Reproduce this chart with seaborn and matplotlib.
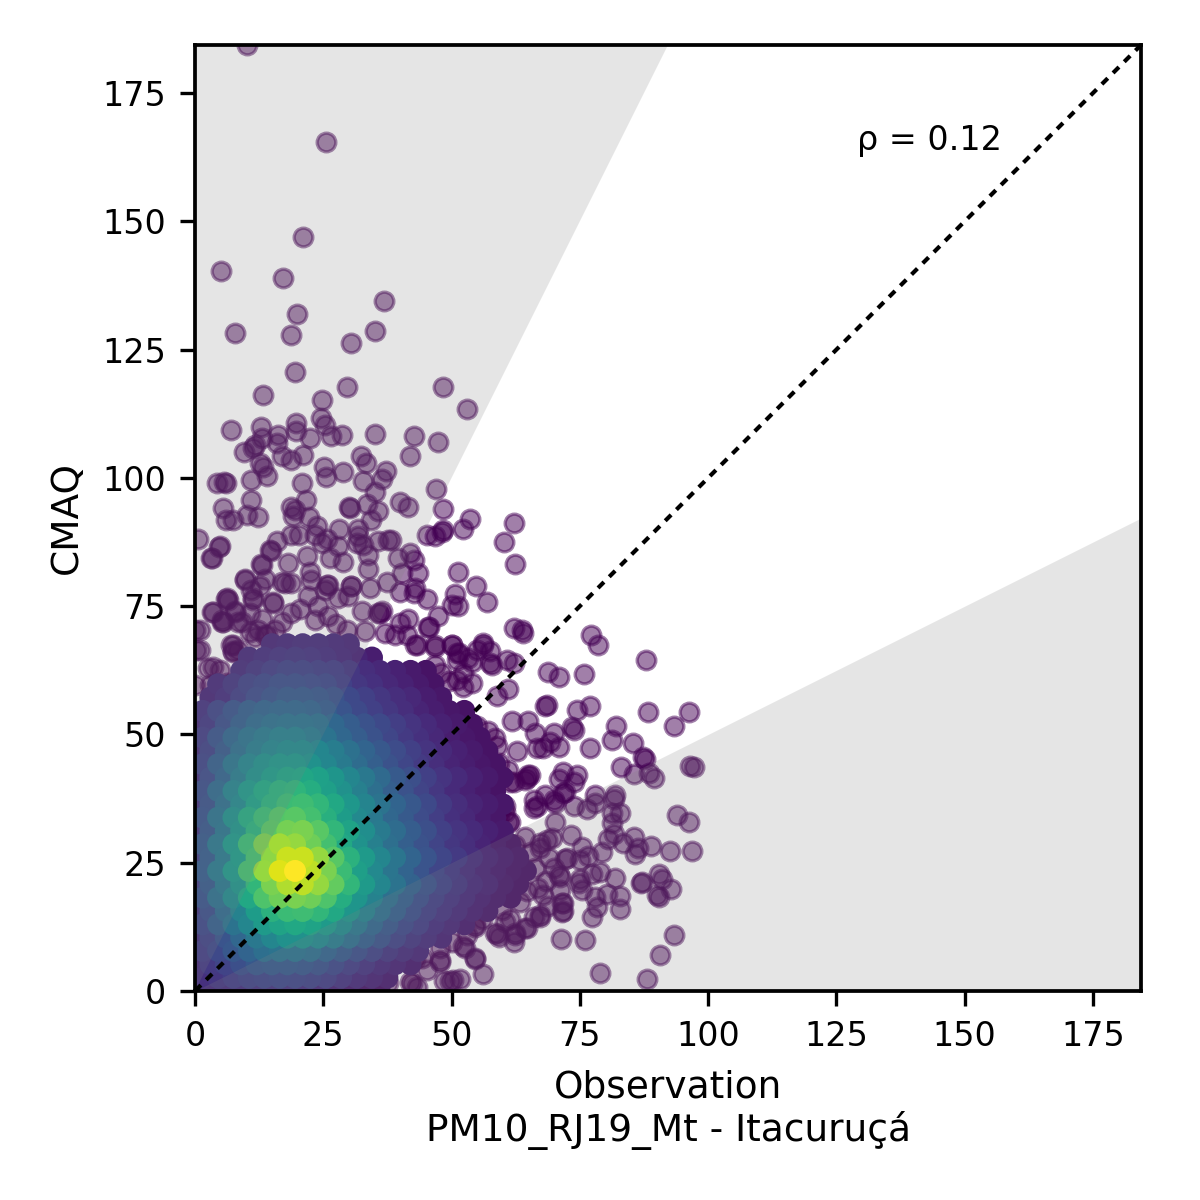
import numpy as np
import pandas as pd
import matplotlib
matplotlib.use("Agg")
import matplotlib.pyplot as plt
import seaborn as sns

AX_LIMIT = 184.4
title_lines = ["Observation", "PM10_RJ19_Mt - Itacuruçá"]
tick_values = [0, 25, 50, 75, 100, 125, 150, 175]
rho_label = "ρ = 0.12"

# Dense core: density (0-100), row by row.
core_row_y = [0, 2.6, 5.2, 7.8, 10.4, 13, 15.6, 18.2, 20.8, 23.4, 26, 28.6, 31.2, 33.8, 36.4,
              39, 41.6, 44.2, 46.8, 49.4, 52, 54.6, 57.2, 59.8, 62.4, 65, 67.6]
core_density = [
    [10,12,13,14,15,15,15,14,12,10,8,6,5],
    [14,16,18,20,21,22,21,20,18,15,12,10,8],
    [12,17,20,24,27,28,28,27,25,22,18,15,12,10,8],
    [18,22,27,32,36,38,38,36,32,28,24,20,16,13,11],
    [14,20,26,33,40,46,50,50,47,42,36,30,25,20,16,13,10],
    [22,30,38,46,54,58,60,58,54,48,40,33,27,22,18,14,11,8],
    [16,24,34,44,55,64,68,69,66,60,52,44,36,30,24,19,15,12,9,7],
    [26,37,48,60,72,78,80,78,72,62,52,44,36,30,24,19,15,12,9,7,5],
    [18,28,40,52,66,80,88,90,84,76,66,54,46,38,31,25,20,16,12,10,7,5],
    [29,41,54,70,84,95,100,90,80,68,56,47,39,32,26,21,17,13,10,8,6,5],
    [18,29,41,55,70,83,92,92,84,74,64,54,46,39,32,26,21,17,13,10,8,6],
    [28,40,54,68,80,86,84,78,70,60,51,43,36,30,25,20,16,13,10,7,5],
    [16,27,39,52,64,74,79,80,74,66,58,49,41,35,29,24,19,15,12,9,7],
    [26,38,50,61,68,73,74,70,63,55,47,40,33,28,23,18,14,11,8,6],
    [15,25,36,47,57,64,68,69,66,60,53,45,38,32,27,22,17,13,10,8,6],
    [24,34,45,54,60,64,65,62,56,50,43,36,30,25,20,16,12,9,7,5],
    [14,23,32,42,50,55,58,59,57,52,46,40,34,28,24,19,15,12,9,7,5],
    [21,30,39,46,50,53,53,50,46,41,35,30,25,21,17,13,10,8,6,5],
    [13,20,28,36,42,46,48,48,46,42,37,32,27,23,19,15,12,9,7,5],
    [18,26,33,38,41,43,43,41,38,33,29,25,21,17,14,11,8,6,5],
    [12,17,24,30,34,37,38,38,37,33,29,25,22,18,15,12,9,7,5],
    [15,21,26,30,32,33,33,32,29,26,22,19,16,13,10,8,6,5],
    [0,11,14,19,23,26,28,28,27,25,22,19,16,13,11,8,6],
    [0,12,16,20,22,24,24,23,22,19,16,14,11,9,7,5],
    [0,0,0,13,16,18,20,20,19,18,16,13,11,9,7,5],
    [0,0,0,12,14,15,16,15,14,12,10,8],
    [0,0,0,0,0,11,12,13,13,12,11],
]

# Individually visible points around the core.
outer_points = [
    (10.1,184.4),(25.5,165.5),(21,147),(5.1,140.4),(17.2,139),(19.9,132),(36.8,134.5),(7.8,128.3),
    (18.7,127.9),(35.1,128.7),(30.4,126.3),(19.5,120.7),(29.7,117.8),(48.4,117.7),(13.3,116.2),
    (53.1,113.5),(24.7,115.2),(7,109.4),(12.8,110),(19.6,110.7),(19.6,109.2),(24.6,111.6),(25.3,110.3),
    (26.5,108.2),(28.6,108.4),(22.4,107.7),(35.1,108.6),(42.7,108.1),(47.3,107),(41.9,104.3),
    (16.2,108.4),(15.9,106.8),(13,107.7),(11.7,106.4),(11.4,105.8),(9.6,105),(17,104.3),(18.8,103.5),
    (21.1,104.5),(12.7,102.9),(13.3,102.1),(14,100.4),(11,99.6),(25.1,102.2),(25.5,100.1),(28.9,101.2),
    (32.3,104.2),(33.3,102.9),(37.2,101.4),(36.4,99.8),(32.8,99.5),(35.1,97.3),(47,97.9),(20.8,99.1),
    (4.2,99),(5.7,99.3),(6,99.1),(11,95.8),(21.6,95.8),(5.4,94.1),(18.8,94.4),(19.5,93.8),(19.2,92.5),
    (30.1,94.4),(30.2,94.1),(33.5,95),(35.7,93.6),(40,95.3),(41.6,94.4),(48.3,93.9),(53.7,92.1),(34.4,91.8),
    (6,91.8),(7.5,91.8),(10.1,92.8),(12.2,92.3),(22.3,92.3),(23.7,90.7),(28.1,90.1),(31.8,90.1),(0.6,88.2),
    (4.9,86.7),(3.2,84.5),(18.7,88.9),(20.3,88.9),(16,87.8),(14.8,85.8),(23.4,88.9),(25.7,88.2),(24.7,87.3),
    (27.9,86.8),(31.8,88.6),(31.5,87.3),(32.8,87),(33.8,85),(35.7,87.7),(38.3,88),(37.7,87.9),(39.6,84.5),
    (41.9,85.3),(42.6,84),(45.2,88.9),(46.8,88.6),(48.4,89.9),(48.1,89.5),(52.2,90.1),(60.2,87.6),(62.1,91.3),
    (62.4,83.2),(51.3,81.7),(54.8,79),(57,75.8),(50.6,77.3),(50,75.2),(51.3,75),(47.4,73),(45.7,71),(41.6,72.6),
    (21.8,84.7),(26.3,84.5),(28.9,83.7),(33.7,82.3),(12.9,83.2),(18.1,83.4),(9.7,80.3),(13.6,80.3),(22.4,81.7),
    (22.7,80.1),(26,79.1),(30.4,79),(34.1,78.5),(37.5,79.8),(40.3,81.4),(43.5,81.4),(40,77.8),(42.9,78.5),
    (45.2,76.5),(42.6,77.5),(16.9,79.8),(18.8,79.5),(6,76.5),(3.6,73.8),(11,78.2),(11.4,76.2),(15.3,75.7),
    (7.8,74),(5.2,72),(29.9,76.9),(25.3,78.2),(36.1,73.6),(40,71.7),(39,69.4),(46.8,67.4),(50,67.4),(56.2,67.8),
    (62.1,70.7),(63.7,70.4),(64,69.8),(77.2,69.4),(78.5,67.4),(88,64.6),(68.8,62.1),(71,61.3),(75.9,61.8),
    (88.3,54.4),(96.2,54.3),(93.3,51.6),(58.8,57.5),(61.1,58.8),(62.1,63.9),(57.5,63.9),(56.2,67.4),(60.8,64.5),
    (46.8,67.1),(43.2,67.4),(45.5,71),(50.1,67.4),(51.4,65.8),(54,64.2),(46.8,63.5),(52.3,59.3),(54,60),
    (68.3,55.6),(68.6,55.7),(74.4,54.8),(77,55.6),(61.8,52.6),(65,52.6),(66.3,50.2),(69.9,50.2),(73.5,51.5),
    (73.8,50.9),(82.1,51.6),(81.3,49),(85.4,48.3),(62.7,46.8),(66.6,47.3),(67.9,47.3),(69.2,48.6),(70.9,47.6),
    (76.9,47.3),(87.3,45.7),(87.8,45.3),(83.1,43.7),(85.5,42.3),(88.4,42.4),(89.4,41.6),(96.5,43.9),(97.2,43.7),
    (65,42.1),(64.4,41.1),(71.8,42.7),(74.4,42.1),(70.9,41.4),(73.8,40.8),(62.1,40.8),(68.3,38.2),(72.2,38.8),
    (66,37.2),(70.2,36.6),(78,38.2),(81.9,38.2),(81.6,37.5),(73.8,36.1),(76.4,35.5),(78,36.6),(82.9,34.6),
    (81.3,34.6),(66,35.6),(60.5,34.9),(61.4,33),(70.2,32.9),(81.3,32.7),(93.9,34.4),(96.2,33),(73.3,30.4),
    (81.6,30.7),(80.6,29.7),(85.5,30),(83.5,28.8),(88.9,28.2),(86.3,27.8),(85.7,26.8),(92.6,27.3),(96.9,27.3),
    (68.6,29.4),(67.3,27.8),(75.4,28.1),(79.4,27.1),(76.7,26.3),(75.1,25.5),(72.2,25.8),(69.9,23.9),(70.9,22.6),
    (81.9,22.1),(77.4,22.9),(79,23.2),(90.5,22.9),(91,21.9),(87,21),(87.1,21.2),(92.8,19.8),(90.4,18.4),(90,18.7),
    (75.1,21.9),(74.8,21),(75.4,19.7),(80.3,19),(82.9,18.5),(78,18.4),(78.3,16.4),(77.4,14.5),(82.8,15.9),
    (71.5,17.1),(71.5,15.4),(67.3,14.8),(66,14.5),(61.4,14.1),(64.4,12.2),(58.8,11.2),(62.1,9.6),(62.4,10.9),
    (71.4,10.1),(76.1,9.9),(93.4,11),(90.7,7),(78.9,3.6),(88.1,2.4),(56.2,3.4),(51.7,2.4),(49.7,2),(54.6,6.3),
    (52.7,8.3),(47.8,6),(45.2,4),(42,1.8),(43.2,0.8),(42.9,6.3),(37.7,1.6),(42.3,1.6),(48.5,2),(50.2,2.2),
    (54.6,12.4),(0,70.3),(2.5,63),(4.9,62.6),(0.2,66.5),(0,59.6),(3.3,73.9),(5.3,72.3),(7.8,73.9),(6.4,76.2),
    (8.4,71.9),(7.4,67.4),(8.4,66.5),(10.7,70),(12.3,70.4),(13.6,69.4),(11.3,76.6),(9.7,80.1),(13.1,83),(14.6,86),
    (12.7,79),(3.3,84.4),(4.7,86.5),(3.6,63.2),(7.4,66.1),(2.9,59.6),
    # fringe of the dense core
    (6.2,76.6),(5.5,72),(10.7,73.6),(9.1,72),(15.3,75.9),(17.5,79.5),(22.1,76.9),(25.7,79.2),(30.5,78.9),
    (27.9,76.6),(32.5,74),(35.7,73.6),(36.4,74),(33.1,70.1),(37,69.8),(41.3,69.4),(42.9,67.5),(18.8,73.6),
    (11.7,69.1),(14,69.4),(7.5,66.2),(7.1,67.5),(1,70.4),(1,66.5),(6.2,60),(9.1,62.6),(16.9,72),(24,75),
    (26,73),(23.4,72.4),(29.6,70.4),(15.6,70.4),(20.5,74.5),(27.5,71.5),(13,72.6),
    (51,65.9),(51,64.6),(53.3,64.9),(54.9,66.5),(57.5,66.2),(57.9,63.6),(52.3,62),(51,60.7),(55,51.6),
    (57.2,50.6),(58.5,49.3),(58.9,47.7),(59.2,44.4),(61.1,43.1),(61.4,40.8),(64.7,41.5),(65.3,42.1),(60.5,36),
    (61.1,33),(59.2,34.3),(66.6,36),(71.8,38.6),(69.9,37.3),(49.5,60.5),(48,62),
    (62.4,28.5),(64.4,30.1),(67.3,28.8),(69.6,29.8),(72.5,25.9),(66.3,23.9),(71.2,22.3),(71.2,19.7),(67.9,18.7),
    (71.8,17.1),(71.8,15.5),(67.3,14.5),(64.7,12.2),(62.4,11.3),(58.5,11.3),(59.2,10.6),(54.6,12.9),(52.3,8.7),
    (54.6,6.4),(47.8,8.3),(47.8,5.7),(44.2,6.4),(59.8,15.8),(63.4,17.4),(64.7,19.4),(68.9,16.5),(68.5,21.5),
    (66.8,20),(69,26),(65.5,27),(60.5,13.5),(56,14),(53,11),(50,9.5),
]

core_rows = []
for row, (y, densities) in enumerate(zip(core_row_y, core_density)):
    offset = 1.5 if row % 2 else 0.0
    for col, d in enumerate(densities):
        if d > 0:
            core_rows.append({"x": col * 3.0 + offset, "y": y, "density": d})
core_df = pd.DataFrame(core_rows).sort_values("density")
outer_df = pd.DataFrame(outer_points, columns=["x", "y"])

sns.set_theme(style="ticks", rc={"axes.linewidth": 0.9, "text.color": "black", "axes.labelcolor": "black",
                                 "xtick.color": "black", "ytick.color": "black", "axes.edgecolor": "black"})
plt.rcParams["font.family"] = ["DejaVu Sans"]

fig = plt.figure(figsize=(4, 4), dpi=300)
ax = fig.add_axes([195 / 1200, 1 - 991 / 1200, 946 / 1200, 946 / 1200])

sns.scatterplot(data=outer_df, x="x", y="y", color="#440154", alpha=0.5, s=20,
                linewidth=0.8, edgecolor="#440154", ax=ax, zorder=2, legend=False)
sns.scatterplot(data=core_df, x="x", y="y", hue="density", palette="viridis",
                hue_norm=(0, 100), s=20, linewidth=0.8, edgecolor="face", alpha=1,
                ax=ax, zorder=3, legend=False)

ax.fill_between([0, AX_LIMIT], [0, 2 * AX_LIMIT], [2 * AX_LIMIT, 2 * AX_LIMIT],
                color="gray", alpha=0.2, linewidth=0, zorder=4)
ax.fill_between([0, AX_LIMIT], [0, AX_LIMIT / 2], [0, 0],
                color="gray", alpha=0.2, linewidth=0, zorder=4)
ax.plot([0, AX_LIMIT], [0, AX_LIMIT], color="black", lw=1.0, dashes=(2.0, 1.8), zorder=5)

ax.set_xlim(0, AX_LIMIT)
ax.set_ylim(0, AX_LIMIT)
ax.set_xticks(tick_values)
ax.set_yticks(tick_values)
ax.tick_params(labelsize=8, length=3.5, width=0.8, pad=3.5)
ax.set_xlabel("\n".join(title_lines), fontsize=9, labelpad=3.8)
ax.set_ylabel("CMAQ", fontsize=9, labelpad=4)
ax.text(129.0, 164, rho_label, fontsize=8, color="black", zorder=6)
for s in ax.spines.values():
    s.set_visible(True)
    s.set_zorder(7)

fig.savefig("out.png", dpi=300)
